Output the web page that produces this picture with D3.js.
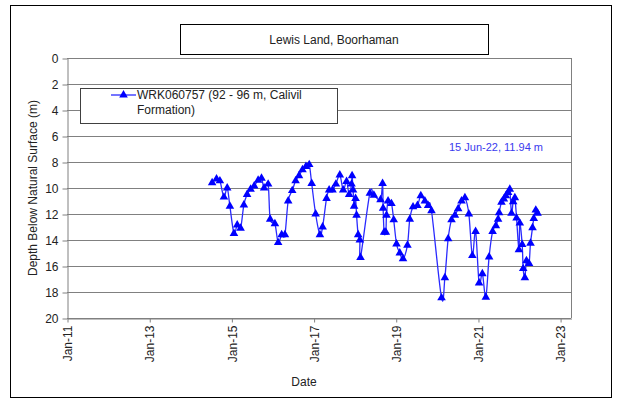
<!DOCTYPE html>
<html>
<head>
<meta charset="utf-8">
<script src="https://cdn.jsdelivr.net/npm/d3@7"></script>
<style>
  body { margin: 0; background: #fff; }
  svg { font-family: "Liberation Sans", Arial, sans-serif; }
</style>
</head>
<body>
<div id="chart"></div>
<script>
// readings for bore WRK060757
const dates = [
  "2014-07-14","2014-08-22","2014-09-21","2014-10-27","2014-11-25","2014-12-19",
  "2015-01-24","2015-02-22","2015-03-24","2015-04-22","2015-05-21","2015-06-21",
  "2015-07-23","2015-08-27","2015-09-26","2015-10-19","2015-11-24","2015-12-12",
  "2016-01-23","2016-02-21","2016-03-23","2016-04-21","2016-05-20","2016-06-25",
  "2016-07-25","2016-08-24","2016-09-24","2016-10-25","2016-11-23","2016-12-15",
  "2017-01-19","2017-02-26","2017-03-22","2017-04-26","2017-05-19","2017-06-18",
  "2017-07-18","2017-08-22","2017-09-21","2017-10-21","2017-11-13","2017-12-04",
  "2017-12-09","2017-12-18","2017-12-27","2018-01-09","2018-01-18","2018-02-01",
  "2018-02-16","2018-02-22","2018-05-16","2018-06-21","2018-08-19","2018-09-06",
  "2018-09-11","2018-09-20","2018-10-05","2018-10-11","2018-10-25","2018-11-24",
  "2018-12-14","2019-01-08","2019-02-06","2019-03-07","2019-04-15","2019-05-06",
  "2019-06-04","2019-07-13","2019-08-12","2019-09-17","2019-10-16","2019-11-15",
  "2020-02-12","2020-03-13","2020-04-11","2020-05-11","2020-06-10","2020-07-09",
  "2020-08-08","2020-09-07","2020-10-12","2020-11-12","2020-12-11","2021-01-11",
  "2021-02-09","2021-03-12","2021-04-10","2021-05-11","2021-06-09","2021-06-29",
  "2021-07-08","2021-07-29","2021-08-19","2021-09-06","2021-09-26","2021-10-11",
  "2021-10-26","2021-11-10","2021-11-25","2021-12-10","2021-12-31","2022-01-08",
  "2022-01-29","2022-02-07","2022-02-22","2022-03-08","2022-03-31","2022-04-13",
  "2022-05-01","2022-05-12","2022-05-30","2022-06-15"
];
const depths = [
  9.6, 9.3, 9.45, 10.7, 10.0, 11.4,
  13.5, 12.85, 13.1, 11.3, 10.5, 10.1,
  9.85, 9.4, 9.25, 10.0, 9.7, 12.4,
  12.75, 14.2, 13.6, 13.6, 11.0, 10.2,
  9.45, 9.05, 8.6, 8.35, 8.2, 9.65,
  12.0, 13.6, 13.0, 10.8, 10.15, 10.15,
  9.7, 9.0, 10.15, 9.5, 10.5, 9.7,
  9.05, 10.15, 11.4, 10.8, 12.1, 13.6,
  14.0, 15.35, 10.4, 10.55, 10.9, 9.65,
  11.55, 13.4, 13.4, 12.1, 11.0, 11.2,
  12.45, 14.3, 15.0, 15.45, 14.4, 12.4,
  11.45, 11.35, 10.6, 11.0, 11.35, 11.75,
  18.45, 16.9, 13.9, 12.45, 12.1, 11.6,
  11.0, 10.75, 12.0, 15.2, 13.35, 17.3,
  16.6, 18.4, 15.3, 13.35, 12.9, 12.4,
  11.9, 11.1, 10.85, 10.6, 10.35, 10.1,
  11.95, 11.05, 10.75, 12.3, 14.75, 12.7,
  14.35, 16.2, 16.9, 15.6, 15.8, 14.25,
  13.05, 12.35, 11.7, 11.94
];
const yTicks = [0, 2, 4, 6, 8, 10, 12, 14, 16, 18, 20];
const xTicks = ["2011-01-01","2013-01-01","2015-01-01","2017-01-01","2019-01-01","2021-01-01","2023-01-01"];
const xDomain = ["2011-01-01", "2023-04-08"];

const title = "Lewis Land, Boorhaman";
const seriesName = ["WRK060757 (92 - 96 m, Calivil", "Formation)"];
const lastLabel = "15 Jun-22, 11.94 m";

const W = 630, H = 403;
const plot = {left: 67, right: 571, top: 58, bottom: 318};
const parse = d3.utcParse("%Y-%m-%d");

const data = dates.map((d, i) => ({date: parse(d), value: depths[i]}));

const svg = d3.select("#chart").append("svg")
    .attr("width", W)
    .attr("height", H);

// outer frame
svg.append("rect")
    .attr("x", 10.5).attr("y", 5.5)
    .attr("width", 601).attr("height", 392)
    .attr("fill", "#fff")
    .attr("stroke", "#000");

const x = d3.scaleUtc()
    .domain(xDomain.map(parse))
    .range([plot.left, plot.right]);

const y = d3.scaleLinear()
    .domain([0, 20])
    .range([plot.top, plot.bottom]);

// gridlines
svg.append("g")
    .selectAll("line")
    .data(yTicks)
    .enter().append("line")
    .attr("x1", plot.left).attr("x2", plot.right)
    .attr("y1", d => Math.round(y(d)) + 0.5)
    .attr("y2", d => Math.round(y(d)) + 0.5)
    .attr("stroke", "#808080");

// right border of plot area
svg.append("line")
    .attr("x1", plot.right + 0.5).attr("x2", plot.right + 0.5)
    .attr("y1", plot.top).attr("y2", plot.bottom)
    .attr("stroke", "#808080");

// y axis
const yAxis = svg.append("g")
    .attr("transform", `translate(${plot.left + 0.5},0.5)`)
    .call(d3.axisLeft(y).tickValues(yTicks).tickFormat(d3.format("d")).tickSize(5).tickSizeOuter(0));
yAxis.select(".domain").attr("stroke", "#808080");
yAxis.selectAll(".tick line").attr("stroke", "#808080");
yAxis.selectAll("text")
    .attr("x", -9)
    .style("font-size", "12px")
    .attr("fill", "#222");
yAxis.attr("font-family", null);

// x axis
const xAxis = svg.append("g")
    .attr("transform", `translate(0.5,${plot.bottom + 0.5})`)
    .call(d3.axisBottom(x).tickValues(xTicks.map(parse)).tickFormat(d3.utcFormat("%b-%y")).tickSize(4).tickSizeOuter(0));
xAxis.select(".domain").attr("stroke", "#808080");
xAxis.selectAll(".tick line").attr("stroke", "#808080");
xAxis.selectAll("text")
    .attr("transform", "rotate(-90)")
    .attr("x", -7)
    .attr("y", 0)
    .attr("dy", "0.35em")
    .style("text-anchor", "end")
    .style("font-size", "12px")
    .attr("fill", "#222");
xAxis.attr("font-family", null);

// axis titles
svg.append("text")
    .attr("transform", `translate(37,${(plot.top + plot.bottom) / 2}) rotate(-90)`)
    .attr("text-anchor", "middle")
    .style("font-size", "12px")
    .attr("fill", "#222")
    .text("Depth Below Natural Surface (m)");

svg.append("text")
    .attr("x", 304).attr("y", 386)
    .attr("text-anchor", "middle")
    .style("font-size", "12px")
    .attr("fill", "#222")
    .text("Date");

// title box
svg.append("rect")
    .attr("x", 180.5).attr("y", 24.5)
    .attr("width", 308).attr("height", 30)
    .attr("fill", "#fff")
    .attr("stroke", "#000");
svg.append("text")
    .attr("x", 334).attr("y", 44)
    .attr("text-anchor", "middle")
    .style("font-size", "12px")
    .attr("fill", "#222")
    .text(title);

// series
const line = d3.line()
    .x(d => x(d.date))
    .y(d => y(d.value))
    .curve(d3.curveCatmullRom.alpha(0));

svg.append("path")
    .datum(data)
    .attr("d", line)
    .attr("fill", "none")
    .attr("stroke", "#2a2aff")
    .attr("stroke-width", 1.3);

const tri = d3.symbol().type(d3.symbolTriangle).size(32);

svg.append("g")
    .selectAll("path")
    .data(data)
    .enter().append("path")
    .attr("d", tri)
    .attr("transform", d => `translate(${x(d.date)},${y(d.value)})`)
    .attr("fill", "#0000ff");

// legend
const legend = svg.append("g");
legend.append("rect")
    .attr("x", 80.5).attr("y", 88.5)
    .attr("width", 257).attr("height", 35)
    .attr("fill", "#fff")
    .attr("stroke", "#404040");
legend.append("line")
    .attr("x1", 111).attr("x2", 136)
    .attr("y1", 95).attr("y2", 95)
    .attr("stroke", "#2a2aff")
    .attr("stroke-width", 1.3);
legend.append("path")
    .attr("d", tri)
    .attr("transform", "translate(123.5,95)")
    .attr("fill", "#0000ff");
legend.selectAll("text.series")
    .data(seriesName)
    .enter().append("text")
    .attr("class", "series")
    .attr("x", 137)
    .attr("y", (d, i) => 99 + i * 15)
    .style("font-size", "12px")
    .attr("fill", "#222")
    .text(d => d);

// last reading note
svg.append("text")
    .attr("x", 449).attr("y", 151)
    .style("font-size", "11px")
    .attr("fill", "#3a3aee")
    .text(lastLabel);
</script>
</body>
</html>
